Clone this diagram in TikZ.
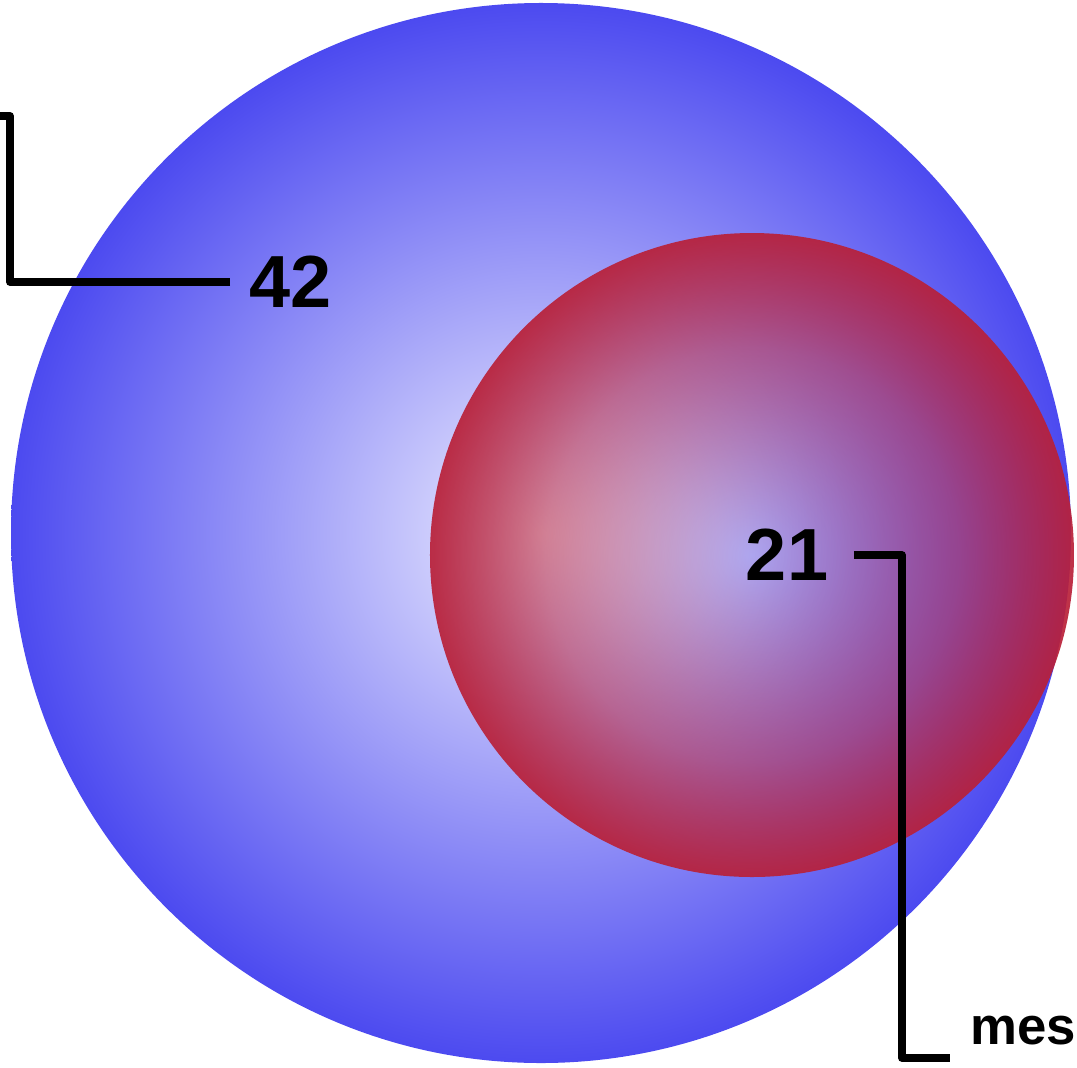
\documentclass[tikz,border=0pt]{standalone}
\usepackage{fontspec}
\setmainfont{Liberation Sans}
\definecolor{bluecore}{RGB}{238, 238, 255}
\definecolor{blueedge}{RGB}{76, 74, 240}
\definecolor{redbase}{RGB}{185, 32, 56}
\usetikzlibrary{fadings}
\pgfdeclareradialshading{bluesphere}{\pgfpointorigin}{color(0bp)=(bluecore); color(25bp)=(blueedge); color(50bp)=(blueedge)}
\pgfdeclareradialshading{redshade}{\pgfpointorigin}{color(0bp)=(black!95); color(16bp)=(black!47); color(25bp)=(black!7); color(50bp)=(black!7)}
\pgfdeclarefading{redfade}{\pgfuseshading{redshade}}
\tikzstyle{callout} = [line width=2.2pt, line join=round]
\tikzstyle{count} = [font=\bfseries\fontsize{21}{25}\selectfont]

\begin{document}
\begin{tikzpicture}[x=0.01cm, y=-0.01cm]
            \useasboundingbox (0, 0) rectangle (1077, 1067);
            \clip (0, 0) rectangle (1077, 1067);

            % Outer set
            \shade[shading=bluesphere] (541, 533) circle (530);

            % Inner set
            \fill[redbase, path fading=redfade] (752, 555) circle (322);

            % Counts
            \node[count, inner xsep=0.19cm] (n42) at (291, 282) {42};
            \node[count, inner xsep=0.25cm] (n21) at (787, 555) {21};
            \node[font=\bfseries\fontsize{15}{18}\selectfont, inner xsep=0.2cm, anchor=base west] (mes) at (950, 1044) {mes};

            % Callouts
            \coordinate (k42) at (10, 116);
            \coordinate (e42) at (-10, 116);
            \coordinate (k21) at (902, 1058);
            \draw[callout] (n42.west) -| (k42) -- (e42);
            \draw[callout] (n21.east) -| (k21) -- (mes.west |- k21);
        \end{tikzpicture}
\end{document}
